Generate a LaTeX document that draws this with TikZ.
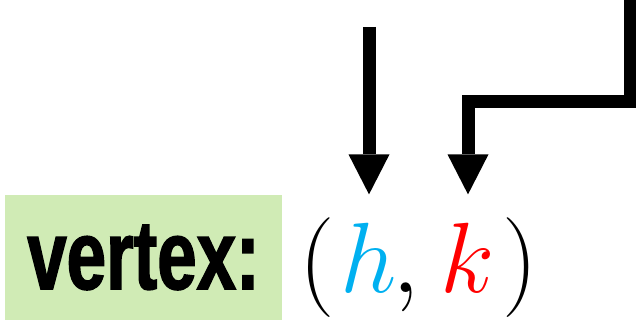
\RequirePackage{fix-cm}
\documentclass[tikz,border=0pt]{standalone}
\usepackage{fontspec}
\usepackage{amsmath}
\usetikzlibrary{arrows.meta}
\newfontfamily\vtxfont{Liberation Sans}[FakeStretch=0.72,BoldFeatures={FakeBold=1.5}]
\definecolor{vgreen}{RGB}{208,235,181}
\definecolor{hblue}{RGB}{0,176,240}

\begin{document}
\begin{tikzpicture}[x=0.025cm,y=-0.025cm]
        \tikzstyle{pointer}=[line width=0.325cm,-{Triangle[width=1.025cm,length=1cm,line width=0pt]},shorten >=0.7cm]
        \tikzstyle{sym}=[anchor=base,inner sep=0pt,font=\fontsize{71}{80}\selectfont]
        \useasboundingbox (0,0) rectangle (636,321);

        \node[fill=vgreen,minimum width=6.925cm,minimum height=3.125cm,inner sep=0pt,font=\vtxfont\bfseries\fontsize{70}{80}\selectfont] (vtx) at (143.5,257.5) {vertex:};

        \node[sym] (lp) at (317,292) {$($};
        \node[sym,text=hblue] (h) at (369,292) {$h$};
        \node[sym] (cm) at (406,292) {$,$};
        \node[sym,text=red] (k) at (468,292) {$k$};
        \node[sym] (rp) at (520,292) {$)$};

        \coordinate (hsrc) at (h.north |- 0,27);
        \coordinate (ksrc) at (630,-5);
        \draw[pointer] (hsrc) -- (h.north);
        \draw[pointer] (ksrc) |- (k.north |- 0,101.5) -- (k.north);
    \end{tikzpicture}
\end{document}
